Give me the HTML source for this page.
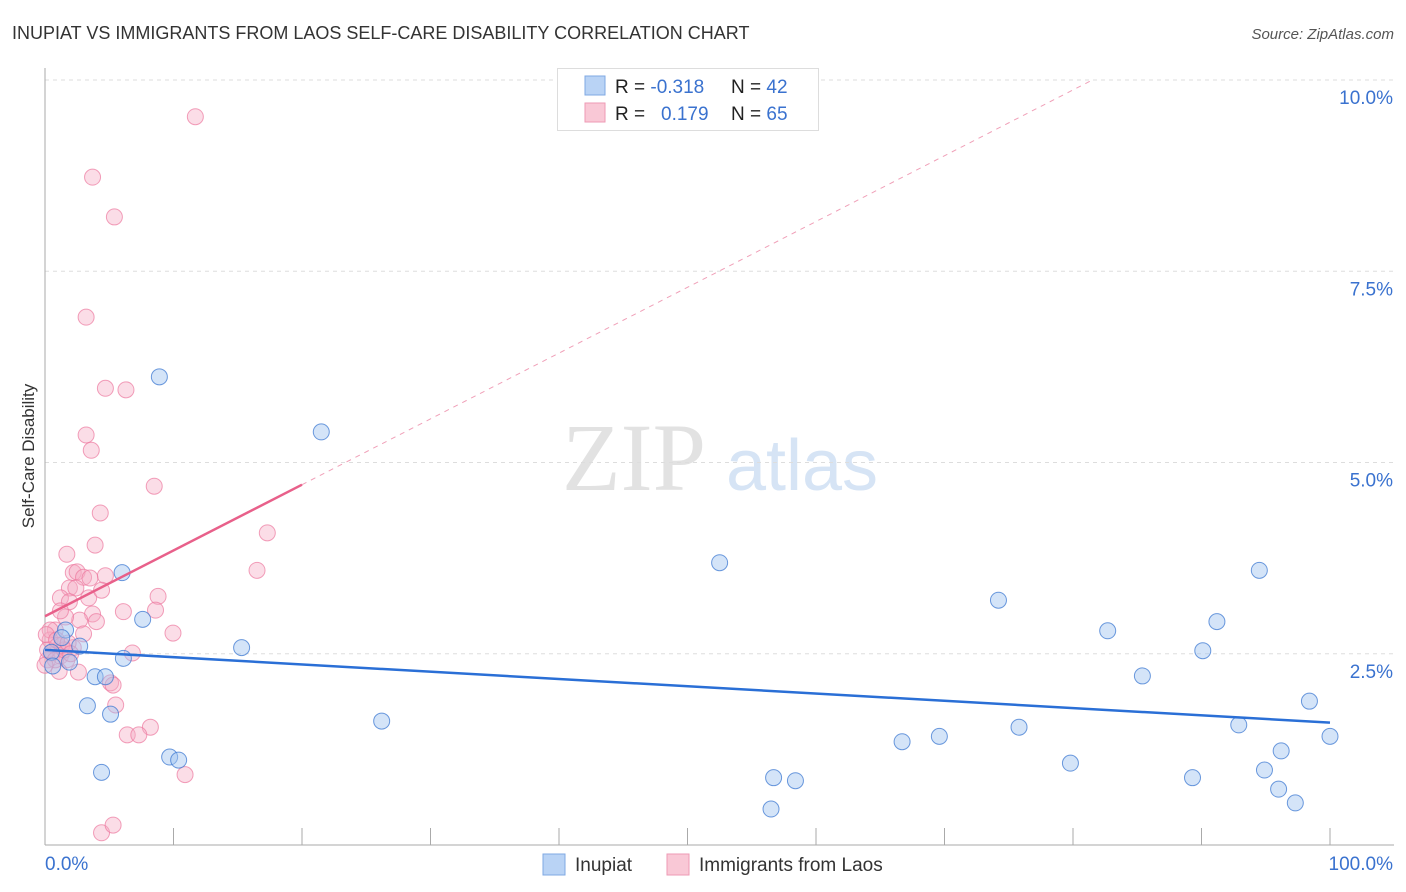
<!DOCTYPE html>
<html><head><meta charset="utf-8"><style>
body{margin:0;background:#fff;font-family:"Liberation Sans",sans-serif;}
svg{display:block}
</style></head><body>
<svg id="chart" width="1406" height="892">
<text x="12" y="39" font-size="18" fill="#333">INUPIAT VS IMMIGRANTS FROM LAOS SELF-CARE DISABILITY CORRELATION CHART</text>
<text x="1394" y="39" font-size="15" fill="#555" text-anchor="end" font-style="italic">Source: ZipAtlas.com</text>
<text transform="translate(34,456) rotate(-90)" font-size="17" fill="#333" text-anchor="middle">Self-Care Disability</text>
<g><text x="634" y="490" font-size="96" font-family="Liberation Serif,serif" fill="#e2e2e2" text-anchor="middle">ZIP</text><text x="802" y="490" font-size="72" fill="#d6e4f5" text-anchor="middle">atlas</text></g>
<g id="grid"></g><g id="axes"></g><g id="marks"></g>
<g>
<rect x="557.5" y="68.5" width="261" height="62" fill="#fff" stroke="#ddd"/>
<rect x="585" y="76" width="20" height="19" fill="#b9d3f5" stroke="#7fa8e3"/>
<rect x="585" y="103" width="20" height="19" fill="#f9c8d6" stroke="#ee9ab4"/>
<text x="615" y="93" font-size="19" fill="#222">R = <tspan fill="#3a72cf">-0.318</tspan></text>
<text x="731" y="93" font-size="19" fill="#222">N = <tspan fill="#3a72cf">42</tspan></text>
<text x="615" y="120" font-size="19" fill="#222">R = <tspan fill="#3a72cf" x="661">0.179</tspan></text>
<text x="731" y="120" font-size="19" fill="#222">N = <tspan fill="#3a72cf">65</tspan></text>
</g>
<g>
<rect x="543" y="854" width="22" height="21" fill="#b9d3f5" stroke="#7fa8e3"/>
<text x="575" y="871" font-size="19" fill="#333">Inupiat</text>
<rect x="667" y="854" width="22" height="21" fill="#f9c8d6" stroke="#ee9ab4"/>
<text x="699" y="871" font-size="19" fill="#333">Immigrants from Laos</text>
</g>
</svg>
<script>
const yTicks=[2.5,5,7.5,10];
const yTickLabels=["2.5%","5.0%","7.5%","10.0%"];
const xTickLabels=["0.0%","100.0%"];
const inupiatX=[8.9,21.5,6.0,7.6,15.3,1.6,1.3,2.7,0.5,1.9,6.1,0.6,3.9,4.7,3.3,5.1,26.2,9.7,10.4,4.4,52.5,74.2,82.7,85.4,90.1,91.2,94.5,98.4,100,92.9,75.8,69.6,66.7,79.8,56.7,58.4,56.5,89.3,94.9,96.2,96.0,97.3];
const inupiatY=[6.12,5.40,3.56,2.95,2.58,2.81,2.71,2.60,2.52,2.39,2.44,2.34,2.20,2.20,1.82,1.71,1.62,1.15,1.11,0.95,3.69,3.20,2.80,2.21,2.54,2.92,3.59,1.88,1.42,1.57,1.54,1.42,1.35,1.07,0.88,0.84,0.47,0.88,0.98,1.23,0.73,0.55];
const laosX=[11.7,3.7,5.4,3.2,4.7,6.3,3.2,3.6,8.5,4.3,17.3,3.9,1.7,16.5,2.2,2.5,3.0,3.5,4.7,1.9,2.4,1.2,1.9,8.8,8.6,6.1,3.7,4.0,2.7,1.6,9.96,3.0,0.8,0.4,1.0,0.5,1.2,0.2,1.7,2.2,6.8,2.6,1.1,5.1,5.3,5.5,8.2,6.4,7.3,10.9,4.4,5.3,0.4,0.2,0.8,0.1,1.3,1.5,0.9,0,1.8,3.4,1.2,4.4,2.0];
const laosY=[9.52,8.73,8.21,6.90,5.97,5.95,5.36,5.16,4.69,4.34,4.08,3.92,3.80,3.59,3.56,3.57,3.50,3.49,3.52,3.36,3.36,3.23,3.18,3.25,3.07,3.05,3.02,2.92,2.94,2.98,2.77,2.76,2.81,2.68,2.61,2.51,2.47,2.42,2.42,2.58,2.51,2.26,2.27,2.12,2.09,1.83,1.54,1.44,1.44,0.92,0.16,0.26,2.81,2.55,2.42,2.75,2.61,2.55,2.68,2.35,2.64,3.23,3.06,3.33,2.50];
const inupiatTrend=[2.55,1.60];
const laosTrend=[2.99,4.71];
const laosTrendEnd=20;
const sx=v=>45+v*12.85, sy=v=>845-v*76.5;
const NS="http://www.w3.org/2000/svg";
function mk(tag,attrs,parent){const e=document.createElementNS(NS,tag);for(const k in attrs)e.setAttribute(k,attrs[k]);parent.appendChild(e);return e;}
const grid=document.getElementById('grid'),axes=document.getElementById('axes'),marks=document.getElementById('marks');
yTicks.forEach((t,i)=>{
 const l=mk('line',{x1:45,x2:1394,y1:sy(t),y2:sy(t),stroke:'#ddd','stroke-dasharray':'4,4'},grid);
 
 
 const tx=mk('text',{x:1393,y:sy(t)+24,'font-size':19,fill:'#3a72cf','text-anchor':'end'},axes);tx.textContent=yTickLabels[i];
 
 
});
mk('line',{x1:45,x2:45,y1:68,y2:845,stroke:'#aaa'},axes);
mk('line',{x1:45,x2:1394,y1:845,y2:845,stroke:'#aaa'},axes);
for(let k=1;k<=10;k++){mk('line',{x1:45+128.5*k,x2:45+128.5*k,y1:828,y2:845,stroke:'#aaa'},axes);}
const xl0=mk('text',{x:45,y:870,'font-size':19,fill:'#3a72cf'},axes);xl0.textContent=xTickLabels[0];


const xl1=mk('text',{x:1393,y:870,'font-size':19,fill:'#3a72cf','text-anchor':'end'},axes);xl1.textContent=xTickLabels[1];


laosX.forEach((x,i)=>{const c=mk('circle',{cx:sx(x),cy:sy(laosY[i]),r:8,fill:'rgba(246,170,195,0.4)',stroke:'rgba(236,120,158,0.7)','stroke-width':1},marks);
 
 });
inupiatX.forEach((x,i)=>{const c=mk('circle',{cx:sx(x),cy:sy(inupiatY[i]),r:8,fill:'rgba(160,195,240,0.45)',stroke:'rgba(60,120,210,0.75)','stroke-width':1},marks);
 
 });
const slope=(laosTrend[1]-laosTrend[0])/laosTrendEnd;
const xEnd=(10.0-laosTrend[0])/slope;
const d=mk('line',{x1:sx(laosTrendEnd),y1:sy(laosTrend[1]),x2:sx(xEnd),y2:sy(10.0),stroke:'#f0a0b8','stroke-dasharray':'5,5','stroke-width':1},marks);


const lt=mk('line',{x1:sx(0),y1:sy(laosTrend[0]),x2:sx(laosTrendEnd),y2:sy(laosTrend[1]),stroke:'#e8608a','stroke-width':2.5},marks);


const bt=mk('line',{x1:sx(0),y1:sy(inupiatTrend[0]),x2:sx(100),y2:sy(inupiatTrend[1]),stroke:'#2a6fd6','stroke-width':2.5},marks);


</script>
</body></html>
